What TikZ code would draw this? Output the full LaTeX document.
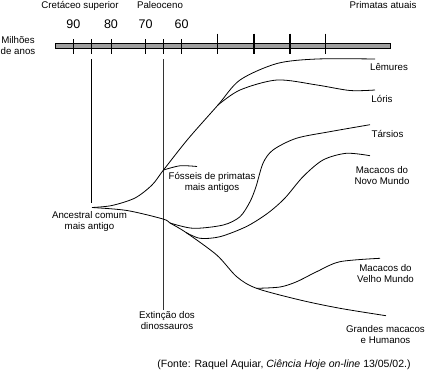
\documentclass[tikz,border=0pt]{standalone}
\usepackage{fontspec}
\setmainfont{Liberation Sans}
\begin{document}
\begin{tikzpicture}[x=1pt, y=-1pt,
    rotulo/.style={font=\fontsize{9.7}{11}\selectfont, align=center, inner sep=0pt},
    numero/.style={font=\fontsize{12.5}{14}\selectfont, inner sep=0pt},
    ramo/.style={line width=0.8pt},
    marca/.style={line width=0.8pt},
    marcagrossa/.style={line width=1.4pt}]
    \useasboundingbox (0,0) rectangle (426,372);
    % Escala de tempo
    \draw[fill=gray!75, line width=0.7pt] (55,43.5) rectangle (390,48.5);
    \foreach \x in {73.3,91.3,111,145.7,163.5,181.7} \draw[marca] (\x,39) -- (\x,54);
    \foreach \x in {217.7,254,290,325.7} \draw[marcagrossa] (\x,33.5) -- (\x,54);
    \foreach \n/\x in {90/73.3,80/111,70/145.7,60/181.7} \node[numero] (n\n) at (\x,24.5) {\n};
    \node[rotulo] (cretaceo) at (80,5.5) {Cretáceo superior};
    \node[rotulo] (paleoceno) at (160,5.5) {Paleoceno};
    \node[rotulo] (atuais) at (383,5.5) {Primatas atuais};
    \node[rotulo] (milhoes) at (18,46) {Milhões\\de anos};
    % Pontos de ramificacao
    \coordinate (anc) at (92,207.5);
    \coordinate (jf) at (163.5,170);
    \coordinate (jl) at (218,105);
    \coordinate (jb) at (170,223);
    \coordinate (jn) at (186,232.5);
    \coordinate (jv) at (256.5,288.3);
    % Linhas verticais
    \draw[ramo] (91.3,59) -- (91.3,203);
    \draw[line width=1.3pt, black!80] (163.5,59) -- (163.5,310);
    % Ramo superior
    \draw[ramo] plot[smooth] coordinates {(anc) (112,205.5) (135,198) (152,185) (jf) (188,139) (jl) (240,80) (277,63.5) (317,59) (375,59)};
    \draw[ramo] plot[smooth] coordinates {(jl) (240,90) (277,80) (317,85) (350,90.5) (375,90)};
    \draw[ramo] plot[smooth] coordinates {(jf) (180,165.8) (197,166.5)};
    % Ramo inferior
    \draw[ramo] plot[smooth] coordinates {(anc) (127,210.5) (163,219) (jb) (jn) (216.7,255) (236.7,276.7) (jv) (300,300) (340,308.3) (386,315.7)};
    \draw[ramo] plot[smooth] coordinates {(jb) (193.3,228.3) (223.3,225) (240,216.7) (250,201.7) (256,186.7) (263,163.3) (273,150) (296.3,138.3) (329.7,131.7) (370,124.7)};
    \draw[ramo] plot[smooth] coordinates {(jn) (200,238.3) (220,236.7) (246.5,226.5) (268,213) (285,198) (303,176.7) (323,160) (346.3,153.3) (370,155.7)};
    \draw[ramo] plot[smooth] coordinates {(jv) (280,287) (296.7,281.7) (316.7,271.7) (340,261.7) (380,258.3)};
    % Rotulos
    \node[rotulo] (lemures) at (389,67) {Lêmures};
    \node[rotulo] (loris) at (382,98.5) {Lóris};
    \node[rotulo] (tarsios) at (387.5,134) {Társios};
    \node[rotulo] (novomundo) at (382,176) {Macacos do\\Novo Mundo};
    \node[rotulo] (fosseis) at (212,182) {Fósseis de primatas\\mais antigos};
    \node[rotulo] (ancestral) at (89.5,221.5) {Ancestral comum\\mais antigo};
    \node[rotulo] (extincao) at (167,321) {Extinção dos\\dinossauros};
    \node[rotulo] (velhomundo) at (385.5,273.5) {Macacos do\\Velho Mundo};
    \node[rotulo] (grandes) at (385.5,334.5) {Grandes macacos\\e Humanos};
    \node[rotulo, font=\fontsize{10.5}{12}\selectfont] (fonte) at (284,365) {(Fonte: Raquel Aquiar, \textit{Ciência Hoje on-line} 13/05/02.)};
\end{tikzpicture}
\end{document}
